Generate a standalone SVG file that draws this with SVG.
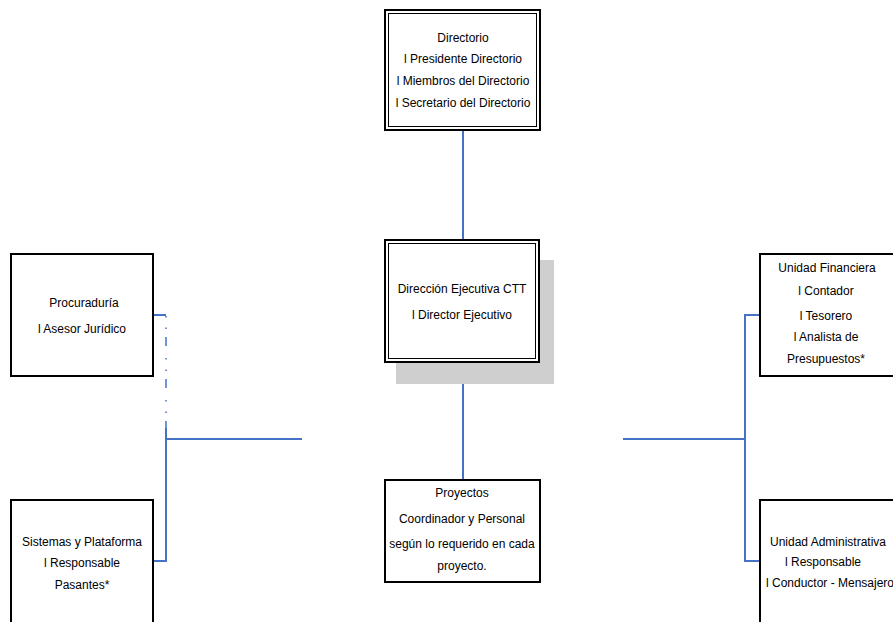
<svg xmlns="http://www.w3.org/2000/svg" width="893" height="622" viewBox="0 0 893 622">
<style>
.box{fill:#fff;stroke:#000;stroke-width:2}
.inner{fill:none;stroke:#000;stroke-width:1}
.shadow{fill:#cfcfcf;stroke:none}
.t{font-family:"Liberation Sans",Arial,sans-serif;font-size:12px;fill:#000;text-anchor:middle}
.c{fill:none;stroke:#4472C4;stroke-width:2}
.d{fill:none;stroke:#4472C4;stroke-width:1.5;stroke-dasharray:1.5 10 1.5 8 9 12}
</style>
<rect width="893" height="622" fill="#fff"/>
<g id="connectors">
<line class="c" x1="463" y1="131" x2="463" y2="240"/>
<line class="c" x1="463" y1="363" x2="463" y2="480"/>
<polyline class="c" points="153,315 166,315"/>
<line class="d" x1="166" y1="316" x2="166" y2="430"/>
<line class="c" x1="166" y1="428" x2="166" y2="439"/>
<line class="c" x1="165" y1="439" x2="302" y2="439"/>
<polyline class="c" points="166,439 166,561 153,561"/>
<line class="c" x1="623" y1="439" x2="746" y2="439"/>
<polyline class="c" points="759,315 745,315 745,561 760,561"/>
</g>
<g id="directorio">
<rect class="box" x="385" y="10" width="155" height="120"/>
<rect class="inner" x="388.5" y="13.5" width="148" height="113"/>
<text class="t" x="463" y="42">Directorio</text>
<text class="t" x="463" y="63">l Presidente Directorio</text>
<text class="t" x="463" y="85">l Miembros del Directorio</text>
<text class="t" x="463" y="107">l Secretario del Directorio</text>
</g>
<g id="direccion">
<rect class="shadow" x="396" y="260" width="158" height="124"/>
<rect class="box" x="385" y="240" width="154" height="122"/>
<rect class="inner" x="388.5" y="243.5" width="147" height="115"/>
<text class="t" x="462" y="293">Dirección Ejecutiva CTT</text>
<text class="t" x="462" y="319">l Director Ejecutivo</text>
</g>
<g id="procuraduria">
<rect class="box" x="11" y="254" width="142" height="122"/>
<text class="t" x="84" y="307">Procuraduría</text>
<text class="t" x="82" y="333">l Asesor Jurídico</text>
</g>
<g id="sistemas">
<rect class="box" x="11" y="500" width="142" height="130"/>
<text class="t" x="82" y="546">Sistemas y Plataforma</text>
<text class="t" x="82" y="567">l Responsable</text>
<text class="t" x="82" y="589">Pasantes*</text>
</g>
<g id="proyectos">
<rect class="box" x="385" y="480" width="155" height="102"/>
<text class="t" x="462" y="497">Proyectos</text>
<text class="t" x="462" y="523">Coordinador y Personal</text>
<text class="t" x="462" y="548">según lo requerido en cada</text>
<text class="t" x="462" y="570">proyecto.</text>
</g>
<g id="financiera">
<rect class="box" x="760" y="254" width="140" height="122"/>
<text class="t" x="827" y="272">Unidad Financiera</text>
<text class="t" x="826" y="295">l Contador</text>
<text class="t" x="826" y="320">l Tesorero</text>
<text class="t" x="826" y="341">l Analista de</text>
<text class="t" x="826" y="363">Presupuestos*</text>
</g>
<g id="administrativa">
<rect class="box" x="760" y="500" width="140" height="130"/>
<text class="t" x="828" y="546">Unidad Administrativa</text>
<text class="t" x="823" y="566">l Responsable</text>
<text class="t" x="830" y="587">l Conductor - Mensajero</text>
</g>
</svg>
